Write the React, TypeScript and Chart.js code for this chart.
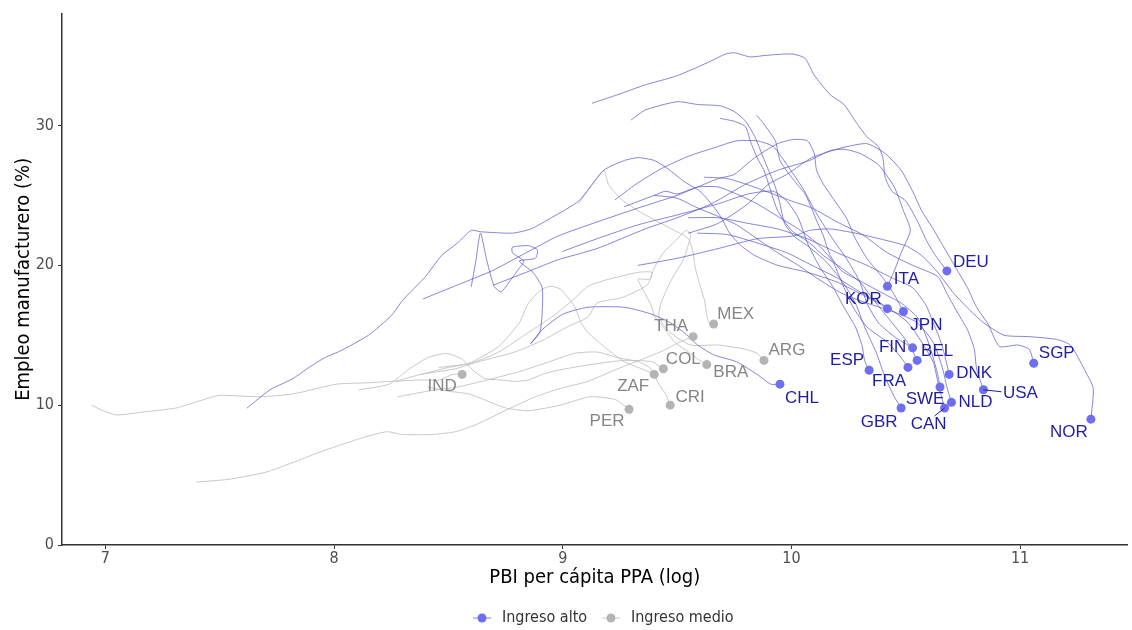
import React, { useEffect, useRef } from "react";
import { Chart, registerables } from "chart.js";

Chart.register(...registerables);

type Pt = [number, number];

// ---- High-income trajectories: [log GDP per capita PPP, manufacturing employment %]
const DEU: Pt[] = [[9.13,31.6],[9.24,32.2],[9.36,32.9],[9.49,33.5],[9.58,34.1],[9.66,34.7],[9.71,35.1],[9.75,35.2],[9.82,34.9],[9.88,35.0],[9.96,35.1],[10.01,35.1],[10.06,34.8],[10.10,33.6],[10.17,32.2],[10.23,31.5],[10.28,30.3],[10.33,29.2],[10.38,28.5],[10.40,27.7],[10.41,26.3],[10.44,25.3],[10.50,24.6],[10.55,23.2],[10.59,21.8],[10.63,20.7],[10.68,19.6]];
const KOR: Pt[] = [[7.62,9.8],[7.72,11.1],[7.82,11.9],[7.89,12.7],[7.96,13.4],[8.03,13.9],[8.15,15.0],[8.25,16.4],[8.30,17.5],[8.40,19.2],[8.47,20.7],[8.54,21.6],[8.60,22.5],[8.64,22.4],[8.78,22.3],[8.86,22.6],[8.95,23.4],[9.07,24.6],[9.18,26.8],[9.27,27.5],[9.33,27.7],[9.40,27.5],[9.46,26.9],[9.53,26.0],[9.60,25.3],[9.65,24.4],[9.69,23.5],[9.73,22.3],[9.78,21.4],[9.84,20.7],[9.94,20.0],[10.07,19.5],[10.20,18.8],[10.31,17.9],[10.38,17.3],[10.42,16.9]];
const JPN: Pt[] = [[8.39,17.6],[8.54,18.6],[8.69,19.6],[8.84,20.9],[8.98,22.1],[9.15,23.1],[9.33,24.1],[9.50,25.0],[9.59,25.6],[9.68,26.2],[9.75,26.5],[9.84,27.7],[9.94,28.7],[10.01,29.0],[10.07,28.9],[10.10,28.0],[10.11,26.8],[10.14,25.8],[10.19,24.6],[10.24,23.4],[10.28,21.9],[10.33,20.5],[10.40,19.1],[10.45,17.9],[10.49,16.7]];
const ITA: Pt[] = [[8.70,18.6],[8.84,19.5],[8.98,20.4],[9.15,21.2],[9.36,22.6],[9.50,23.4],[9.65,24.4],[9.80,25.8],[9.94,26.8],[10.08,27.5],[10.17,28.2],[10.23,28.3],[10.30,28.0],[10.38,27.2],[10.45,25.6],[10.49,23.9],[10.52,22.5],[10.48,20.9],[10.45,19.6],[10.42,18.5]];
const CHL: Pt[] = [[8.60,18.5],[8.62,20.3],[8.64,22.3],[8.67,20.2],[8.70,18.5],[8.73,18.1],[8.77,18.9],[8.81,19.8],[8.83,20.3],[8.78,20.9],[8.78,21.3],[8.85,21.4],[8.89,21.1],[8.88,20.5],[8.81,20.3],[8.87,19.5],[8.91,18.4],[8.91,16.6],[8.90,15.2],[8.86,14.4],[8.91,15.4],[9.00,16.5],[9.11,17.0],[9.27,17.0],[9.39,16.5],[9.47,15.9],[9.53,15.2],[9.59,14.3],[9.66,13.6],[9.76,13.1],[9.85,12.2],[9.91,11.5],[9.95,11.5]];
const GBR: Pt[] = [[9.30,30.4],[9.36,31.1],[9.50,31.7],[9.59,31.5],[9.69,31.4],[9.75,31.0],[9.80,30.3],[9.84,29.2],[9.87,28.0],[9.90,26.8],[9.93,25.6],[9.95,24.4],[9.97,23.0],[10.01,22.1],[10.07,21.4],[10.15,20.3],[10.22,18.9],[10.28,17.3],[10.32,15.6],[10.37,13.8],[10.41,12.0],[10.45,10.6],[10.48,9.8]];
const BEL: Pt[] = [[9.69,30.5],[9.75,30.3],[9.80,29.9],[9.82,28.9],[9.85,27.7],[9.88,26.8],[9.91,25.3],[9.94,23.9],[10.00,22.5],[10.08,21.6],[10.14,20.7],[10.22,19.8],[10.30,18.8],[10.37,17.3],[10.43,16.1],[10.48,15.1],[10.52,14.2],[10.55,13.2]];
const SWE: Pt[] = [[9.85,30.7],[9.88,30.1],[9.93,28.9],[9.95,27.5],[10.00,26.3],[10.06,25.1],[10.08,24.4],[10.11,23.2],[10.14,22.1],[10.17,20.7],[10.22,19.6],[10.31,18.8],[10.40,18.0],[10.48,17.3],[10.55,16.3],[10.59,14.9],[10.62,13.4],[10.64,12.2],[10.65,11.3]];
const FIN: Pt[] = [[9.23,24.7],[9.32,25.8],[9.43,26.9],[9.55,27.8],[9.68,28.5],[9.76,28.9],[9.85,28.9],[9.92,28.5],[9.98,27.2],[10.05,25.5],[10.11,23.7],[10.18,21.9],[10.24,20.5],[10.30,18.8],[10.33,17.3],[10.38,15.9],[10.45,14.9],[10.53,14.1]];
const FRA: Pt[] = [[9.27,24.2],[9.40,25.0],[9.45,25.3],[9.50,25.1],[9.59,25.6],[9.68,25.6],[9.76,25.1],[9.85,24.4],[9.94,23.5],[10.03,22.6],[10.11,21.6],[10.18,20.3],[10.22,18.8],[10.27,17.0],[10.33,15.6],[10.42,14.5],[10.48,13.4],[10.51,12.7]];
const NLD: Pt[] = [[9.40,25.0],[9.50,24.8],[9.59,24.1],[9.68,23.5],[9.76,22.9],[9.85,21.9],[9.94,20.9],[10.03,20.0],[10.11,19.1],[10.22,18.0],[10.33,17.3],[10.46,16.6],[10.55,15.9],[10.62,14.5],[10.66,12.7],[10.68,11.3],[10.70,10.2]];
const USA: Pt[] = [[9.62,26.3],[9.72,26.2],[9.82,25.7],[9.92,25.1],[10.00,24.6],[10.09,24.1],[10.20,23.1],[10.31,22.2],[10.42,20.9],[10.53,20.0],[10.64,19.2],[10.68,18.0],[10.72,16.8],[10.77,15.4],[10.80,14.0],[10.81,12.6],[10.84,11.1]];
const DNK: Pt[] = [[9.55,23.4],[9.68,23.4],[9.81,23.0],[9.94,22.6],[10.07,21.9],[10.20,20.9],[10.33,20.0],[10.44,19.1],[10.53,18.4],[10.59,17.1],[10.62,15.9],[10.65,14.7],[10.67,13.6],[10.69,12.2]];
const CAN: Pt[] = [[9.59,22.3],[9.72,22.2],[9.85,21.6],[9.98,20.9],[10.09,20.0],[10.20,19.1],[10.31,18.0],[10.42,17.0],[10.51,15.9],[10.57,14.5],[10.62,13.1],[10.64,11.7],[10.66,10.4],[10.67,9.8]];
const SGP: Pt[] = [[9.55,22.3],[9.68,23.0],[9.81,24.4],[9.90,25.8],[9.98,26.5],[10.09,27.7],[10.22,28.4],[10.33,28.7],[10.41,28.0],[10.48,26.8],[10.53,25.3],[10.57,23.9],[10.62,22.6],[10.67,21.2],[10.72,19.8],[10.77,18.4],[10.81,17.0],[10.86,15.8],[10.91,14.2],[10.99,14.3],[11.04,14.0],[11.06,13.0]];
const NOR: Pt[] = [[9.33,20.0],[9.50,20.5],[9.68,21.2],[9.85,21.9],[10.01,22.1],[10.08,22.5],[10.17,22.6],[10.28,22.3],[10.41,21.8],[10.50,21.4],[10.57,20.7],[10.64,19.5],[10.71,18.0],[10.78,16.8],[10.84,15.9],[10.93,15.0],[11.04,14.9],[11.16,14.7],[11.22,14.3],[11.28,12.6],[11.32,11.2],[11.31,9.0]];
const ESP: Pt[] = [[9.00,21.0],[9.15,21.9],[9.33,22.9],[9.50,23.6],[9.68,24.4],[9.81,25.1],[9.92,25.3],[9.98,24.6],[10.03,23.4],[10.07,21.6],[10.12,20.0],[10.18,18.5],[10.23,17.0],[10.28,15.6],[10.31,14.2],[10.32,13.2],[10.34,12.5]];

// ---- Middle-income trajectories
const IND: Pt[] = [[6.94,10.0],[6.99,9.6],[7.05,9.3],[7.16,9.5],[7.31,9.8],[7.41,10.3],[7.50,10.7],[7.67,10.6],[7.82,10.8],[8.01,11.5],[8.15,11.6],[8.25,11.7],[8.37,11.8],[8.46,11.8],[8.52,12.2],[8.56,12.2]];
const THA: Pt[] = [[7.40,4.5],[7.54,4.7],[7.70,5.2],[7.82,5.9],[7.93,6.6],[8.11,7.6],[8.23,8.1],[8.30,7.9],[8.43,7.9],[8.53,8.1],[8.62,8.6],[8.76,9.7],[8.88,10.6],[8.99,11.2],[9.11,11.7],[9.24,12.6],[9.35,13.3],[9.44,13.9],[9.51,14.5],[9.57,14.9]];
const MEX: Pt[] = [[9.07,24.4],[9.12,25.6],[9.18,26.8],[9.20,25.8],[9.25,24.8],[9.33,23.9],[9.43,23.0],[9.50,22.4],[9.55,21.9],[9.57,20.9],[9.58,19.8],[9.60,18.6],[9.62,17.5],[9.63,16.4],[9.64,15.9],[9.66,15.8]];
const ARG: Pt[] = [[8.27,11.7],[8.38,12.2],[8.53,12.6],[8.63,13.1],[8.79,13.8],[8.92,14.7],[9.02,15.6],[9.11,16.3],[9.15,17.3],[9.26,17.7],[9.37,18.6],[9.40,19.8],[9.44,20.9],[9.49,21.7],[9.54,22.5],[9.56,22.2],[9.53,20.5],[9.47,18.8],[9.43,17.3],[9.42,16.3],[9.47,15.2],[9.56,14.3],[9.68,14.3],[9.80,14.0],[9.85,13.7],[9.88,13.2]];
const BRA: Pt[] = [[8.38,12.2],[8.50,12.7],[8.60,13.0],[8.72,13.8],[8.85,15.2],[8.96,16.4],[9.05,17.6],[9.11,18.5],[9.20,19.0],[9.33,19.5],[9.39,19.5],[9.38,19.0],[9.33,19.0],[9.36,18.0],[9.39,17.0],[9.40,16.4],[9.44,15.6],[9.49,14.5],[9.55,13.8],[9.59,13.3],[9.63,12.9]];
const ZAF: Pt[] = [[8.46,12.7],[8.59,13.0],[8.72,14.2],[8.81,15.9],[8.85,17.3],[8.91,18.3],[8.95,18.5],[8.99,18.3],[9.05,17.1],[9.08,15.9],[9.11,15.2],[9.18,14.2],[9.27,13.1],[9.36,12.5],[9.40,12.2]];
const COL: Pt[] = [[8.11,11.1],[8.24,11.5],[8.33,12.6],[8.41,13.4],[8.49,13.7],[8.56,13.3],[8.60,12.6],[8.66,11.9],[8.73,11.8],[8.79,11.7],[8.85,11.8],[8.91,12.2],[8.98,12.5],[9.12,12.9],[9.27,13.2],[9.39,13.1],[9.44,12.6]];
const CRI: Pt[] = [[8.28,10.6],[8.41,11.0],[8.54,11.3],[8.67,11.8],[8.81,12.4],[8.94,13.1],[9.05,13.7],[9.15,13.8],[9.24,13.4],[9.33,13.1],[9.38,12.7],[9.40,12.2],[9.42,11.5],[9.45,10.8],[9.47,10.0]];
const PER: Pt[] = [[8.41,11.3],[8.50,11.0],[8.59,10.8],[8.67,10.3],[8.75,9.8],[8.85,9.6],[8.99,10.0],[9.12,10.6],[9.23,10.4],[9.29,9.7]];

const HIGH_INCOME: [string, Pt[]][] = [
  ["DEU", DEU], ["KOR", KOR], ["JPN", JPN], ["ITA", ITA], ["CHL", CHL], ["GBR", GBR],
  ["BEL", BEL], ["SWE", SWE], ["FIN", FIN], ["FRA", FRA], ["NLD", NLD], ["USA", USA],
  ["DNK", DNK], ["CAN", CAN], ["SGP", SGP], ["NOR", NOR], ["ESP", ESP],
];
const MIDDLE_INCOME: [string, Pt[]][] = [
  ["IND", IND], ["THA", THA], ["MEX", MEX], ["ARG", ARG], ["BRA", BRA],
  ["ZAF", ZAF], ["COL", COL], ["CRI", CRI], ["PER", PER],
];

const X_TICKS = [7, 8, 9, 10, 11];
const Y_TICKS = [0, 10, 20, 30];
const X_MIN = 6.81;
const X_MAX = 11.47;
const Y_MIN = 0;
const Y_MAX = 38;
const X_TITLE = "PBI per cápita PPA (log)";
const Y_TITLE = "Empleo manufacturero (%)";
const LEGEND_LABELS = ["Ingreso alto", "Ingreso medio"];

// label placement (pixel offsets of the label centre from its end point)
const LABEL_OFFSET: Record<string, [number, number]> = {
  DEU: [24, -10], ITA: [19, -8], KOR: [-24, -10], JPN: [23, 13], FIN: [-20, -2],
  BEL: [20, -10], ESP: [-22, -11], FRA: [-19, 13], DNK: [25, -2], SGP: [23, -11],
  USA: [37, 3], SWE: [-15, 11], NLD: [24, -1], CAN: [-16, 15], GBR: [-22, 13],
  NOR: [-22, 12], CHL: [22, 13],
  THA: [-22, -11], MEX: [22, -11], ARG: [23, -11], COL: [20, -10], BRA: [24, 7],
  ZAF: [-21, 11], CRI: [20, -9], PER: [-22, 11], IND: [-20, 11],
};
const CONNECTORS: Record<string, [number, number]> = { USA: [18, 2], CAN: [-10, 8] };

const BLUE_LINE = "rgba(86,86,204,0.72)";
const GRAY_LINE = "rgba(190,190,190,0.85)";
const BLUE_DOT = "#6e6ef0";
const GRAY_DOT = "#b4b4b4";
const BLUE_TEXT = "#1d1da8";
const GRAY_TEXT = "#858585";
const AXIS_COLOR = "#333333";
const AXIS_FONT = "'DejaVu Sans Condensed', 'Open Sans', 'DejaVu Sans', sans-serif";
const LABEL_FONT = "'Liberation Sans', Arial, sans-serif";

const toXY = (pts: Pt[]) => pts.map(([x, y]) => ({ x, y }));

export default function App() {
  const ref = useRef<HTMLCanvasElement | null>(null);

  useEffect(() => {
    if (!ref.current) return;

    const datasets: any[] = [];
    MIDDLE_INCOME.forEach(([name, pts]) =>
      datasets.push({
        label: name, data: toXY(pts), showLine: true, pointRadius: 0, borderWidth: 1,
        borderColor: GRAY_LINE, tension: 0.2, order: 3,
      })
    );
    HIGH_INCOME.forEach(([name, pts]) =>
      datasets.push({
        label: name, data: toXY(pts), showLine: true, pointRadius: 0, borderWidth: 1,
        borderColor: BLUE_LINE, tension: 0.2, order: 2,
      })
    );
    datasets.push({
      label: "mid-ends", data: MIDDLE_INCOME.map(([, p]) => ({ x: p[p.length - 1][0], y: p[p.length - 1][1] })),
      showLine: false, pointRadius: 4.5, pointBackgroundColor: GRAY_DOT, pointBorderWidth: 0, order: 1,
    });
    datasets.push({
      label: "high-ends", data: HIGH_INCOME.map(([, p]) => ({ x: p[p.length - 1][0], y: p[p.length - 1][1] })),
      showLine: false, pointRadius: 4.5, pointBackgroundColor: BLUE_DOT, pointBorderWidth: 0, order: 0,
    });

    const labelPlugin = {
      id: "endLabels",
      afterDatasetsDraw(chart: any) {
        const { ctx, scales } = chart;
        ctx.save();
        ctx.font = `17px ${LABEL_FONT}`;
        ctx.textAlign = "center";
        ctx.textBaseline = "middle";
        const draw = (group: [string, Pt[]][], color: string) => {
          group.forEach(([name, pts]) => {
            const last = pts[pts.length - 1];
            const px = scales.x.getPixelForValue(last[0]);
            const py = scales.y.getPixelForValue(last[1]);
            const off = LABEL_OFFSET[name] || [20, -10];
            const con = CONNECTORS[name];
            if (con) {
              ctx.strokeStyle = color;
              ctx.lineWidth = 1;
              ctx.beginPath();
              ctx.moveTo(px, py);
              ctx.lineTo(px + con[0], py + con[1]);
              ctx.stroke();
            }
            ctx.fillStyle = color;
            ctx.fillText(name, px + off[0], py + off[1] + 1);
          });
        };
        draw(MIDDLE_INCOME, GRAY_TEXT);
        draw(HIGH_INCOME, BLUE_TEXT);
        ctx.restore();
      },
    };

    const legendPlugin = {
      id: "customLegend",
      afterDraw(chart: any) {
        const { ctx } = chart;
        ctx.save();
        const y = 618;
        const items: [string, string, string, number][] = [
          [LEGEND_LABELS[0], BLUE_LINE, BLUE_DOT, 482],
          [LEGEND_LABELS[1], GRAY_LINE, GRAY_DOT, 611],
        ];
        ctx.font = `16px ${AXIS_FONT}`;
        ctx.textBaseline = "middle";
        ctx.textAlign = "left";
        items.forEach(([text, lc, dc, cx]) => {
          ctx.strokeStyle = lc;
          ctx.lineWidth = 1;
          ctx.beginPath();
          ctx.moveTo(cx - 9, y);
          ctx.lineTo(cx + 9, y);
          ctx.stroke();
          ctx.fillStyle = dc;
          ctx.beginPath();
          ctx.arc(cx, y, 4.5, 0, Math.PI * 2);
          ctx.fill();
          ctx.fillStyle = "#333333";
          ctx.fillText(text, cx + 20, y);
        });
        ctx.restore();
      },
    };

    const chart = new Chart(ref.current, {
      type: "scatter",
      data: { datasets },
      options: {
        animation: false,
        responsive: false,
        devicePixelRatio: 1,
        layout: { padding: { top: 8, right: 2, left: 0, bottom: 0 } },
        plugins: { legend: { display: false }, tooltip: { enabled: false } },
        elements: { line: { borderJoinStyle: "round", borderCapStyle: "round" } },
        scales: {
          x: {
            type: "linear",
            min: X_MIN,
            max: X_MAX,
            afterBuildTicks: (s: any) => { s.ticks = X_TICKS.map((v) => ({ value: v })); },
            afterFit: (s: any) => { s.height = 85; },
            grid: { drawOnChartArea: false, drawTicks: true, tickLength: 4, color: AXIS_COLOR, lineWidth: 1 },
            border: { display: true, color: AXIS_COLOR, width: 1.5 },
            ticks: {
              color: "#4d4d4d", padding: 0, maxRotation: 0, autoSkip: false,
              font: { family: AXIS_FONT, size: 16 },
              callback: (v: any) => String(v),
            },
            title: {
              display: true, text: X_TITLE, color: "#000000",
              font: { family: AXIS_FONT, size: 20 }, padding: { top: 0, bottom: 40 },
            },
          },
          y: {
            type: "linear",
            min: Y_MIN,
            max: Y_MAX,
            afterBuildTicks: (s: any) => { s.ticks = Y_TICKS.map((v) => ({ value: v })); },
            afterFit: (s: any) => { s.width = 62; },
            grid: { drawOnChartArea: false, drawTicks: true, tickLength: 4, color: AXIS_COLOR, lineWidth: 1 },
            border: { display: true, color: AXIS_COLOR, width: 1.5 },
            ticks: {
              color: "#4d4d4d", padding: 4,
              font: { family: AXIS_FONT, size: 16 },
              callback: (v: any) => String(v),
            },
            title: {
              display: true, text: Y_TITLE, color: "#000000",
              font: { family: AXIS_FONT, size: 20 }, padding: { top: 12, bottom: 0 },
            },
          },
        },
      },
      plugins: [labelPlugin, legendPlugin],
    } as any);

    return () => chart.destroy();
  }, []);

  return (
    <div style={{ position: "fixed", left: 0, top: 0, width: 1132, height: 630, background: "#ffffff" }}>
      <canvas ref={ref} width={1132} height={630} style={{ display: "block", width: 1132, height: 630 }} />
    </div>
  );
}
